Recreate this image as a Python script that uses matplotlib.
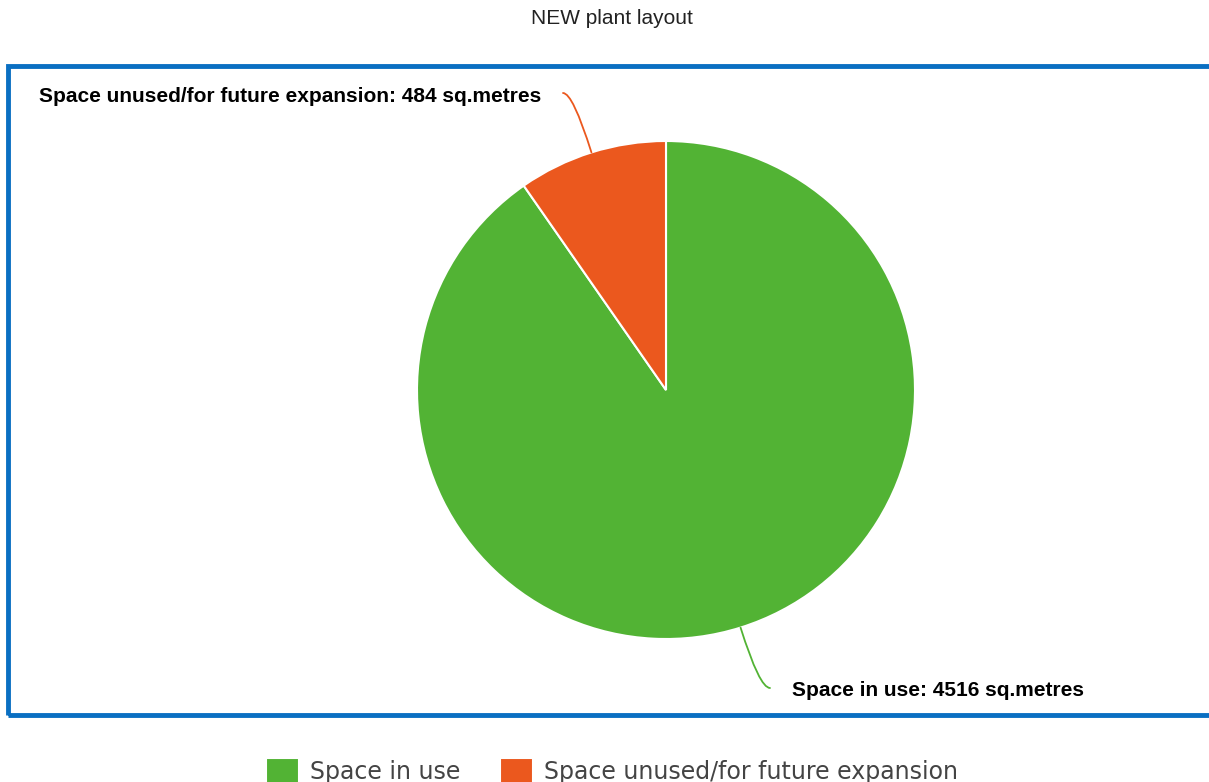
import matplotlib.pyplot as plt
from matplotlib.patches import Rectangle
import numpy as np

# data
labels = ['Space in use', 'Space unused/for future expansion']
values = [4516, 484]
colors = ['#52b334', '#eb581e']

W, H = 1209, 782
fig = plt.figure(figsize=(W / 100, H / 100), dpi=100)
ax = fig.add_axes([0, 0, 1, 1])

cx, cy, r = 666, H - 390, 249

wedges, _ = ax.pie(values, colors=colors, startangle=90, counterclock=False,
                   center=(cx, cy), radius=r, frame=True,
                   wedgeprops=dict(edgecolor='white', linewidth=1.5))
ax.set_xlim(0, W)
ax.set_ylim(0, H)
ax.set_aspect('equal')
ax.axis('off')

# blue frame
ax.add_patch(Rectangle((8, H - 715), 1215, 649, fill=False, edgecolor='#0a6fc2',
                       linewidth=3.5, clip_on=False, zorder=0))

# title
fig.text(612 / W, 1 - 19 / H, 'NEW plant layout', ha='center', va='center',
         fontsize=15, family='Liberation Sans', color='#222222')

# labels with connectors
ends = [(770, H - 688), (563, H - 93)]
text_pos = [(792, H - 690, 'left'), (541, H - 97, 'right')]
for w, v, lab, c, e, tp in zip(wedges, values, labels, colors, ends, text_pos):
    ang = np.deg2rad((w.theta1 + w.theta2) / 2)
    edge = (cx + r * np.cos(ang), cy + r * np.sin(ang))
    ax.annotate('', xy=edge, xytext=e,
                arrowprops=dict(arrowstyle='-', color=c, lw=1.3,
                                connectionstyle='angle3,angleA=0,angleB=%.1f' % np.rad2deg(ang),
                                shrinkA=0, shrinkB=0))
    ax.text(tp[0], tp[1], '%s: %d sq.metres' % (lab, v), ha=tp[2], va='center',
            fontsize=15, fontweight='bold', family='Liberation Sans', color='black')

leg = fig.legend(wedges, labels, loc='lower center', bbox_to_anchor=(612 / W, -0.03),
                 ncol=2, frameon=False, handlelength=1.4, handleheight=1.3,
                 columnspacing=1.7, handletextpad=0.45,
                 prop=dict(family='DejaVu Sans', size=17))
for t in leg.get_texts():
    t.set_color('#444444')

fig.savefig('out.png', dpi=100)
